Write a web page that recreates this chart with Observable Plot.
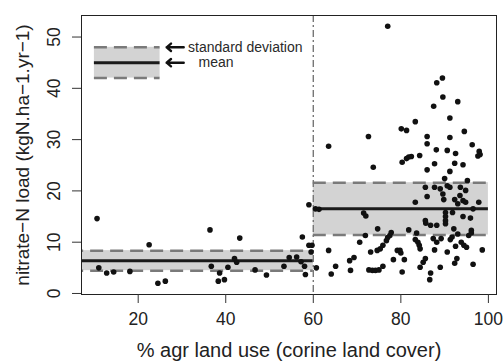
<!DOCTYPE html>
<html><head><meta charset="utf-8">
<script src="https://cdn.jsdelivr.net/npm/d3@7"></script>
<script src="https://cdn.jsdelivr.net/npm/@observablehq/plot@0.6"></script>
<style>body{margin:0;background:#fff;} #chart svg{display:block;}</style>
</head><body><div id="chart"></div>
<script>
// points below the 60% threshold
const lowX = [10.6,11.0,12.8,14.4,18.1,22.5,24.5,26.2,36.4,36.7,38.3,38.6,39.7,40.5,42.0,42.5,43.2,46.7,49.3,53.3,54.5,56.2,57.2,57.5,58.0,58.2,59.0,59.0,59.7,59.5];
const lowY = [14.6,5.0,4.0,4.2,4.3,9.5,2.0,2.4,12.4,5.3,2.4,4.0,2.7,5.1,6.8,6.1,10.8,4.6,3.6,5.3,7.0,7.1,6.2,11.0,5.3,3.7,17.3,9.4,9.4,8.1];
// points above the 60% threshold
const highX = [60.7,60.5,61.3,63.5,63.5,64.1,65.1,68.3,69.3,68.5,70.6,71.5,72.0,71.9,72.6,72.7,73.5,74.2,75.0,73.1,73.7,74.6,74.7,75.3,75.9,75.9,76.7,77.0,77.5,77.8,77.0,78.3,79.2,79.8,80.0,80.1,80.3,80.3,80.8,81.3,81.3,81.8,81.8,82.4,83.3,83.3,83.3,83.6,83.9,84.2,84.4,84.3,84.4,85.1,85.6,85.6,85.6,85.7,86.0,86.0,86.0,86.0,86.6,86.8,86.8,87.4,87.5,87.7,87.7,87.7,88.1,88.2,88.2,88.2,89.0,89.0,89.2,89.5,89.6,89.6,89.8,90.0,90.2,90.2,90.2,90.2,90.6,90.6,90.6,91.2,91.2,91.2,91.2,91.3,91.7,91.8,92.1,92.3,92.3,92.3,92.5,92.5,92.8,93.0,93.0,93.0,93.5,93.6,93.8,94.2,94.2,94.2,94.4,94.5,94.8,94.8,95.0,95.2,95.5,95.9,96.1,96.1,96.3,96.5,96.5,97.8,97.9,98.1,97.6,98.6];
const highY = [5.0,16.5,16.4,28.7,8.4,3.8,5.3,6.4,7.0,4.5,10.0,15.7,15.1,11.3,30.6,4.6,4.5,4.5,4.6,8.1,24.6,8.4,12.6,8.7,9.4,5.3,10.3,10.9,11.3,11.9,52.1,6.6,8.4,8.4,7.9,32.1,25.6,4.2,6.6,31.8,26.3,26.6,12.4,26.7,33.5,17.8,10.5,11.8,10.0,9.4,8.7,26.9,5.1,6.1,6.8,20.7,14.2,13.7,30.6,29.2,24.1,18.9,2.7,4.0,13.3,10.7,36.5,25.3,20.7,8.5,28.0,41.1,13.3,10.0,20.4,5.1,10.7,42.0,38.3,19.4,18.3,22.4,15.8,15.0,14.2,13.6,27.9,21.0,8.1,34.2,30.4,23.8,20.7,10.5,11.0,15.8,12.6,25.4,18.3,5.9,27.3,9.2,6.8,37.4,17.5,11.6,19.1,20.7,10.0,25.1,18.1,15.0,9.4,31.6,17.8,20.1,9.0,22.0,11.3,14.7,12.3,11.8,29.0,16.5,5.7,17.8,27.7,27.1,26.8,8.5];

// group summaries (mean and standard deviation bands)
const groupX1 = [0, 60];
const groupX2 = [60, 100];
const groupMean = [6.4, 16.5];
const groupSd = [1.95, 5.1];

// legend key
const legendX1 = [10];
const legendX2 = [25];
const legendMean = [45];
const legendSd = [3];
const legendLabels = ["standard deviation", "mean"];
const legendLabelX = [31.4, 33.8];
const legendLabelY = [48, 45];
const legendArrowFrom = [30.4, 30.4];
const legendArrowTo = [26.5, 26.5];

const threshold = [60];
const xTicks = [20, 40, 60, 80, 100];
const yTicks = [0, 10, 20, 30, 40, 50];
const xTitle = "% agr land use (corine land cover)";
const yTitle = "nitrate\u2212N load (kgN.ha\u22121.yr\u22121)";

const points = lowX.map((x, i) => ({x, y: lowY[i]}))
  .concat(highX.map((x, i) => ({x, y: highY[i]})));
const bands = groupMean.map((m, i) => ({x1: groupX1[i], x2: groupX2[i], mean: m, lo: m - groupSd[i], hi: m + groupSd[i]}))
  .concat(legendMean.map((m, i) => ({x1: legendX1[i], x2: legendX2[i], mean: m, lo: m - legendSd[i], hi: m + legendSd[i]})));
const legendText = legendLabels.map((t, i) => ({t, x: legendLabelX[i], y: legendLabelY[i]}));
const legendArrows = legendLabelY.map((y, i) => ({x1: legendArrowFrom[i], x2: legendArrowTo[i], y}));

const dash = "13,7";
const chart = Plot.plot({
  width: 503,
  height: 362,
  marginLeft: 81,
  marginRight: 7,
  marginTop: 15,
  marginBottom: 68,
  style: {fontFamily: "'Liberation Sans', Arial, Helvetica, sans-serif", color: "#222", background: "#fff"},
  x: {domain: [7.05, 101.85]},
  y: {domain: [-0.2, 54.2]},
  marks: [
    Plot.rect(bands, {x1: "x1", x2: "x2", y1: "lo", y2: "hi", fill: "#d3d3d3", clip: "frame"}),
    Plot.ruleY(bands, {y: "hi", x1: "x1", x2: "x2", stroke: "#7a7a7a", strokeWidth: 2.5, strokeDasharray: dash, clip: "frame"}),
    Plot.ruleY(bands, {y: "lo", x1: "x1", x2: "x2", stroke: "#7a7a7a", strokeWidth: 2.5, strokeDasharray: dash, clip: "frame"}),
    Plot.ruleY(bands, {y: "mean", x1: "x1", x2: "x2", stroke: "#1a1a1a", strokeWidth: 3, clip: "frame"}),
    Plot.ruleX(threshold, {x: d => d, stroke: "#777", strokeWidth: 1.4, strokeDasharray: "7,3,2,3"}),
    Plot.dot(points, {x: "x", y: "y", r: 2.8, fill: "#111", stroke: null}),
    Plot.arrow(legendArrows, {x1: "x1", x2: "x2", y1: "y", y2: "y", stroke: "#111", strokeWidth: 2.4, headLength: 7, headAngle: 80}),
    Plot.text(legendText, {x: "x", y: "y", text: "t", textAnchor: "start", lineAnchor: "middle", fontSize: 14, fill: "#2a2a2a"}),
    Plot.frame({stroke: "#222", strokeWidth: 1}),
    Plot.axisX(xTicks, {tickSize: 9, tickPadding: 9, fontSize: 17.5, label: null, stroke: "#333", fill: "#222"}),
    Plot.axisY(yTicks, {tickSize: 9, fill: "none", label: null, stroke: "#333"}),
    Plot.text(yTicks, {y: d => d, text: d => String(d), frameAnchor: "left", dx: -22, rotate: -90, textAnchor: "middle", lineAnchor: "bottom", fontSize: 17.5, fill: "#222"}),
    Plot.text([xTitle], {frameAnchor: "bottom", dy: 62, lineAnchor: "bottom", fontSize: 20, fill: "#222"}),
    Plot.text([yTitle], {frameAnchor: "left", dx: -53, rotate: -90, textAnchor: "middle", lineAnchor: "bottom", fontSize: 19, fill: "#222"})
  ]
});
document.getElementById("chart").appendChild(chart);
</script>
</body></html>
